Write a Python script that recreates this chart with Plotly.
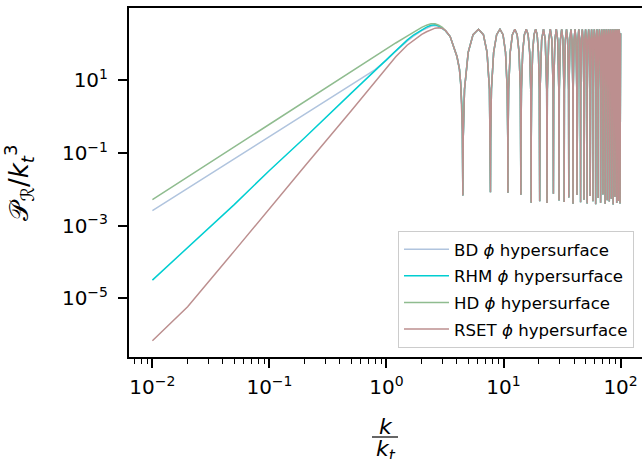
import plotly.graph_objects as go

# ---------------- data ----------------
K_MAIN = [0.01, 0.02, 0.05, 0.1, 0.2, 0.5, 0.8, 1.0, 1.2, 1.5, 1.7, 2.0, 2.2, 2.4,
          2.6, 2.8, 3.0, 3.2, 3.5, 4.0, 4.2, 4.3, 4.4, 4.45]

P_BD = [0.0026, 0.0107, 0.069, 0.28, 1.15, 7.4, 19.5, 35.5, 63, 117, 162, 229, 269, 302,
        316, 302, 269, 229, 158, 44.7, 20, 8.5, 2.0, 0.4]
P_RHM = [3.2e-5, 2.5e-4, 0.0038, 0.033, 0.26, 4.4, 19, 37.2, 66, 126, 174, 245, 288, 324,
         331, 309, 269, 224, 158, 44.7, 20, 8.5, 2.0, 0.4]
P_HD = [0.0052, 0.022, 0.148, 0.62, 2.57, 17.4, 45.7, 72.4, 105, 162, 209, 282, 324, 355,
        355, 324, 282, 229, 158, 44.7, 20, 8.5, 2.0, 0.4]
P_RSET = [6.9e-7, 5.9e-6, 2.0e-4, 0.0030, 0.043, 1.45, 8.9, 21.4, 43.7, 91, 126, 182, 214, 245,
          269, 275, 263, 229, 158, 44.7, 20, 8.5, 2.0, 0.4]

# oscillating tail (common to all four curves, they overlap there)
K_TAIL = [
    4.49, 4.52, 4.64, 4.99, 5.49, 6.11, 6.73, 7.23, 7.58, 7.70,
    7.73, 7.76, 7.88, 8.23, 8.73, 9.32, 9.90, 10.40, 10.75, 10.87,
    10.90, 10.93, 11.05, 11.40, 11.90, 12.49, 13.07, 13.57, 13.92, 14.04,
    14.07, 14.10, 14.22, 14.57, 15.07, 15.65, 16.22, 16.72, 17.07, 17.19,
    17.22, 17.25, 17.37, 17.72, 18.22, 18.80, 19.37, 19.87, 20.22, 20.34,
    20.37, 20.52, 21.17, 21.95, 22.72, 23.37,
    23.52, 23.67, 24.32, 25.10, 25.87, 26.52,
    26.67, 26.82, 27.47, 28.24, 29.01, 29.66,
    29.81, 29.96, 30.61, 31.39, 32.16, 32.81,
    32.96, 33.11, 33.76, 34.53, 35.30, 35.95,
    36.10, 36.25, 36.90, 37.67, 38.44, 39.09,
    39.24, 39.39, 40.04, 40.82, 41.59, 42.24,
    42.39, 42.54, 43.19, 43.96, 44.73, 45.38,
    45.53, 45.68, 46.33, 47.10, 47.87, 48.52,
    48.67, 48.82, 49.47, 50.24, 51.01, 51.66,
    51.81, 51.96, 52.61, 53.39, 54.16, 54.81,
    54.96, 55.11, 55.76, 56.53, 57.30, 57.95,
    58.10, 58.25, 58.90, 59.67, 60.44, 61.09,
    61.24, 61.39, 62.04, 62.81, 63.58, 64.23,
    64.38, 64.53, 65.18, 65.95, 66.72, 67.37,
    67.52, 67.67, 68.32, 69.09, 69.86, 70.51,
    70.66, 70.81, 71.46, 72.23, 73.00, 73.65,
    73.80, 73.95, 74.60, 75.37, 76.14, 76.79,
    76.94, 77.09, 77.74, 78.52, 79.29, 79.94,
    80.09, 80.24, 80.89, 81.66, 82.43, 83.08,
    83.23, 83.38, 84.03, 84.80, 85.57, 86.22,
    86.37, 86.52, 87.17, 87.94, 88.71, 89.36,
    89.51, 89.66, 90.31, 91.08, 91.85, 92.50,
    92.65, 92.80, 93.45, 94.22, 94.99, 95.64,
    95.79, 95.94, 96.59, 97.36, 98.13, 98.78,
    98.93, 99.08, 99.73, 100.0,
]
P_TAIL = [
    0.0068, 0.23, 5.6, 58, 178, 251, 178, 58, 5.6, 0.23,
    0.0083, 0.23, 5.6, 58, 178, 251, 178, 58, 5.6, 0.23,
    0.0081, 0.23, 5.6, 58, 178, 251, 178, 58, 5.6, 0.23,
    0.0071, 0.23, 5.6, 58, 178, 251, 178, 58, 5.6, 0.23,
    0.0043, 0.23, 5.6, 58, 178, 251, 178, 58, 5.6, 0.23,
    0.0047, 5.6, 129, 251, 129, 5.6,
    0.0042, 5.6, 129, 251, 129, 5.6,
    0.0076, 5.6, 129, 251, 129, 5.6,
    0.0049, 5.6, 129, 251, 129, 5.6,
    0.0045, 5.6, 129, 251, 129, 5.6,
    0.0060, 5.6, 129, 251, 129, 5.6,
    0.0040, 5.6, 129, 251, 129, 5.6,
    0.0070, 5.6, 129, 251, 129, 5.6,
    0.0044, 5.6, 129, 251, 129, 5.6,
    0.0052, 5.6, 129, 251, 129, 5.6,
    0.0041, 5.6, 129, 251, 129, 5.6,
    0.0065, 5.6, 129, 251, 129, 5.6,
    0.0047, 5.6, 129, 251, 129, 5.6,
    0.0039, 5.6, 129, 251, 129, 5.6,
    0.0058, 5.6, 129, 251, 129, 5.6,
    0.0043, 5.6, 129, 251, 129, 5.6,
    0.0072, 5.6, 129, 251, 129, 5.6,
    0.0040, 5.6, 129, 251, 129, 5.6,
    0.0050, 5.6, 129, 251, 129, 5.6,
    0.0046, 5.6, 129, 251, 129, 5.6,
    0.0055, 5.6, 129, 251, 129, 5.6,
    0.0038, 5.6, 129, 251, 129, 5.6,
    0.0062, 5.6, 129, 251, 129, 5.6,
    0.0042, 5.6, 129, 251, 129, 5.6,
    0.0048, 5.6, 129, 251, 129, 5.6,
    0.0041, 5.6, 129, 194,
]

SERIES_NAMES = ["BD <i>ϕ</i> hypersurface", "RHM <i>ϕ</i> hypersurface",
                "HD <i>ϕ</i> hypersurface", "RSET <i>ϕ</i> hypersurface"]
SERIES_VALUES = [P_BD, P_RHM, P_HD, P_RSET]
SERIES_COLORS = ["#b0c4de", "#00ced1", "#8fbc8f", "#bc8f8f"]

X_TICKS = [0.01, 0.1, 1, 10, 100]
X_TICKTEXT = ["10<sup>−2</sup>", "10<sup>−1</sup>", "10<sup>0</sup>", "10<sup>1</sup>", "10<sup>2</sup>"]
X_MINOR = [0.007, 0.008, 0.009] + [m * d for d in (0.01, 0.1, 1, 10) for m in range(2, 10)]
Y_TICKS = [1e-5, 1e-3, 1e-1, 10]
Y_TICKTEXT = ["10<sup>−5</sup>", "10<sup>−3</sup>", "10<sup>−1</sup>", "10<sup>1</sup>"]

FONT = "DejaVu Sans"

fig = go.Figure()
for name, vals, col in zip(SERIES_NAMES, SERIES_VALUES, SERIES_COLORS):
    fig.add_trace(go.Scatter(
        x=K_MAIN + K_TAIL, y=vals + P_TAIL, mode="lines", name=name,
        legendgroup=name, line=dict(color=col, width=1.5),
    ))

axis_common = dict(
    type="log", showgrid=False, zeroline=False, showline=True, automargin=False,
    linecolor="black", linewidth=2, ticks="outside", ticklen=9, tickwidth=1.5,
    tickcolor="black", tickfont=dict(family=FONT, size=20, color="black"),
)
fig.update_xaxes(**axis_common, range=[-2.2, 2.183], mirror=True,
                 tickvals=X_TICKS, ticktext=X_TICKTEXT, ticklabelstandoff=2,
                 minor=dict(tickvals=X_MINOR, ticks="outside", ticklen=5,
                            tickwidth=1.2, tickcolor="black"))
fig.update_yaxes(**axis_common, range=[-6.609, 2.983], mirror=False,
                 tickvals=Y_TICKS, ticktext=Y_TICKTEXT, ticklabelstandoff=6)

PLOT_L, PLOT_T, PLOT_B = 129, 8, 102
W, H = 642, 459
plot_h = H - PLOT_T - PLOT_B
plot_w = W - PLOT_L


def px_x(px):
    return (px - PLOT_L) / plot_w


def px_y(py):
    return (H - PLOT_B - py) / plot_h


fig.update_layout(
    width=W, height=H, margin=dict(l=PLOT_L, r=0, t=PLOT_T, b=PLOT_B, autoexpand=False),
    plot_bgcolor="white", paper_bgcolor="white",
    font=dict(family=FONT, color="black"),
    legend=dict(x=px_x(398), y=px_y(231), xanchor="left", yanchor="top",
                bgcolor="rgba(255,255,255,0.8)", bordercolor="#cccccc", borderwidth=1,
                font=dict(family=FONT, size=16.6, color="black"), itemwidth=45,
                traceorder="grouped", tracegroupgap=2),
    annotations=[
        dict(text="𝒫<sub>ℛ</sub>/<i>k</i><sub><i>t</i></sub><sup>3</sup>",
             x=px_x(19), y=0.5, xref="paper", yref="paper", textangle=-90,
             xanchor="center", yanchor="middle",
             showarrow=False, font=dict(family=FONT, size=26, color="black")),
        dict(text="<i>k</i>", x=px_x(386), y=px_y(426), xref="paper", yref="paper",
             xanchor="center", yanchor="middle",
             showarrow=False, font=dict(family=FONT, size=22, color="black")),
        dict(text="<i>k</i><sub><i>t</i></sub>", x=px_x(386), y=px_y(450), xref="paper",
             yref="paper", xanchor="center", yanchor="middle",
             showarrow=False, font=dict(family=FONT, size=22, color="black")),
    ],
    shapes=[dict(type="line", xref="paper", yref="paper", x0=px_x(372), x1=px_x(398),
                 y0=px_y(437), y1=px_y(437), line=dict(color="black", width=1.2))],
)

fig.write_html("out.html", config={"displayModeBar": False},
               post_script="document.body.style.margin='0px';")
